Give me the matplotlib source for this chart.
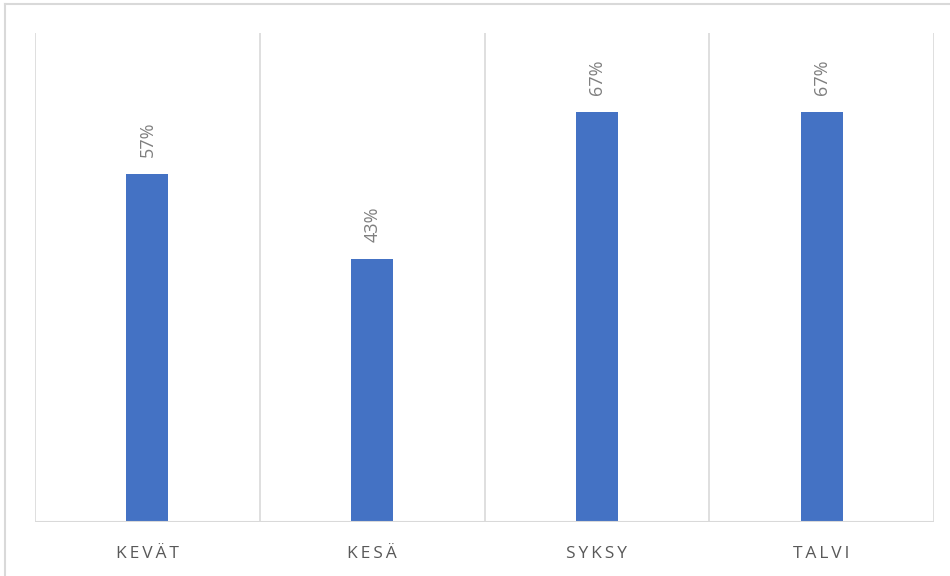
import matplotlib
matplotlib.use("Agg")
import matplotlib.pyplot as plt
from matplotlib.lines import Line2D

categories = ["KEVÄT", "KESÄ", "SYKSY", "TALVI"]
values = [0.57, 0.43, 0.67, 0.67]

fig = plt.figure(figsize=(9.5, 5.76), dpi=100)
W, H = 950, 576
ax = fig.add_axes([35 / W, 1 - 522 / H, (934 - 35) / W, (522 - 33) / H])

x = list(range(len(categories)))
bars = ax.bar(x, values, width=0.187, color="#4472C4", zorder=3)

ax.set_xlim(-0.5, len(categories) - 0.5)
ax.set_ylim(0, 0.8)

# category separators
for b in [i - 0.5 for i in range(len(categories) + 1)]:
    ax.axvline(b, color="#D9D9D9", lw=1.2, zorder=1)

for s in ax.spines.values():
    s.set_visible(False)
ax.axhline(0, color="#D9D9D9", lw=1.5, zorder=4)

ax.set_yticks([])
ax.set_xticks(x)
ax.set_xticklabels(["\u2009".join(c) for c in categories],
                   fontsize=12.5, color="#595959", family=["Open Sans", "DejaVu Sans"])
ax.tick_params(axis="x", length=0, pad=17)

for rect, v in zip(bars, values):
    ax.annotate(f"{v:.0%}", (rect.get_x() + rect.get_width() / 2, v),
                xytext=(0, 17), textcoords="offset pixels",
                rotation=90, ha="center", va="bottom",
                fontsize=13, color="#7F7F7F", family=["Open Sans", "DejaVu Sans"])

# outer frame (top and left edges)
fig.add_artist(Line2D([5 / W, 5 / W], [0, 1 - 4 / H], transform=fig.transFigure,
                      color="#D9D9D9", lw=1.5))
fig.add_artist(Line2D([5 / W, 1], [1 - 4 / H, 1 - 4 / H], transform=fig.transFigure,
                      color="#D9D9D9", lw=1.5))

fig.savefig("out.png", dpi=100)
